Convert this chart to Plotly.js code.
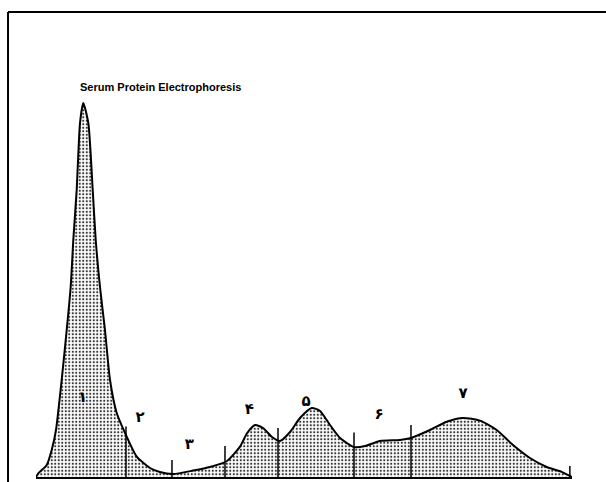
<!DOCTYPE html>
<html>
<head>
<meta charset="utf-8">
<script src="https://cdn.plot.ly/plotly-3.0.1.min.js"></script>
<style>html,body{margin:0;padding:0;background:#fff;}#chart{width:606px;height:482px;}</style>
</head>
<body>
<div id="chart"></div>
<script>
// Densitometer trace (relative mobility, relative absorbance)
const mobility = [0, 0.43, 2.0, 2.93, 3.73, 4.79, 5.73, 6.47, 6.96, 7.59, 8.21, 8.82, 9.76, 10.58, 11.14, 11.94, 12.87, 13.81, 15.06, 16.92, 18.79, 21.27, 23.1, 25.56, 29.29, 32.46, 35.63, 38.06, 39.4, 40.86, 42.35, 44.03, 45.52, 47.4, 49.25, 51.44, 52.99, 54.85, 56.72, 59.33, 61.4, 64.18, 67.9, 69.96, 73.5, 76.62, 79.66, 82.84, 85.95, 89.0, 92.16, 95.28, 98.08, 99.6, 100];
const absorbance = [0, 0.9, 3.0, 6.75, 11.75, 24.25, 36.75, 47.5, 59.25, 71.75, 88.5, 93.5, 88.5, 71.75, 59.25, 47.5, 36.75, 24.25, 16.0, 10.1, 5.1, 2.25, 1.25, 0.75, 1.6, 2.5, 4.0, 7.6, 11.0, 13.0, 12.25, 10.0, 9.0, 11.25, 14.75, 17.25, 16.5, 13.0, 9.75, 7.5, 7.75, 9.0, 9.25, 9.75, 11.75, 13.8, 14.75, 14.1, 11.75, 8.0, 4.75, 2.5, 1.3, 0.25, 0];
// Fraction dividers (position, drawn height)
const dividerPos = [16.79, 25.37, 35.26, 45.15, 59.33, 69.96, 99.6];
const dividerTop = [12.6, 4.25, 7.75, 12.25, 11.1, 13.0, 2.75];
// Fraction labels
const labelText = ["۱", "۲", "۳", "۴", "۵", "۶", "۷"];
const labelX = [8.7, 19.4, 28.6, 39.8, 50.4, 64.0, 79.7];
const labelY = [19.8, 14.6, 8.0, 16.8, 18.8, 15.5, 20.6];
const chartTitle = "Serum Protein Electrophoresis";

const dx = [], dy = [];
dividerPos.forEach((p, i) => { dx.push(p, p, null); dy.push(0, dividerTop[i], null); });

const traces = [
  {
    type: 'scatter', mode: 'lines', x: mobility, y: absorbance,
    fill: 'tozeroy',
    fillpattern: {shape: '.', fgcolor: '#333', bgcolor: '#ffffff', size: 3.5, solidity: 0.3},
    line: {color: '#000', width: 2, shape: 'spline', smoothing: 0.6},
    hoverinfo: 'skip'
  },
  {
    type: 'scatter', mode: 'lines', x: dx, y: dy,
    line: {color: '#000', width: 1.5}, hoverinfo: 'skip'
  },
  {
    type: 'scatter', mode: 'text', x: labelX, y: labelY, text: labelText,
    textfont: {family: 'DejaVu Sans', size: 15, color: '#000', weight: 'bold'},
    hoverinfo: 'skip'
  }
];

const layout = {
  width: 606, height: 482,
  margin: {l: 36, r: 34, t: 77, b: 5},
  paper_bgcolor: '#fff', plot_bgcolor: '#fff',
  showlegend: false,
  title: {
    text: chartTitle,
    x: 80 / 606, xanchor: 'left', xref: 'container',
    y: 1 - 87 / 482, yanchor: 'middle', yref: 'container',
    font: {family: 'Liberation Sans Narrow, Liberation Sans', size: 11, color: '#000', weight: 'bold'}
  },
  xaxis: {range: [0, 100], showgrid: false, zeroline: false, showticklabels: false, ticks: '',
          showline: true, linecolor: '#000', linewidth: 1.5},
  yaxis: {range: [0, 100], showgrid: false, zeroline: false, showticklabels: false, ticks: '', showline: false},
  shapes: [
    {type: 'line', xref: 'paper', yref: 'paper', x0: -0.0522, x1: -0.0522, y0: -0.02, y1: 1.1625,
     line: {color: '#000', width: 2}},
    {type: 'line', xref: 'paper', yref: 'paper', x0: -0.0522, x1: 1.0634, y0: 1.1625, y1: 1.1625,
     line: {color: '#000', width: 2}}
  ]
};

Plotly.newPlot('chart', traces, layout, {displayModeBar: false, staticPlot: true});
</script>
</body>
</html>
